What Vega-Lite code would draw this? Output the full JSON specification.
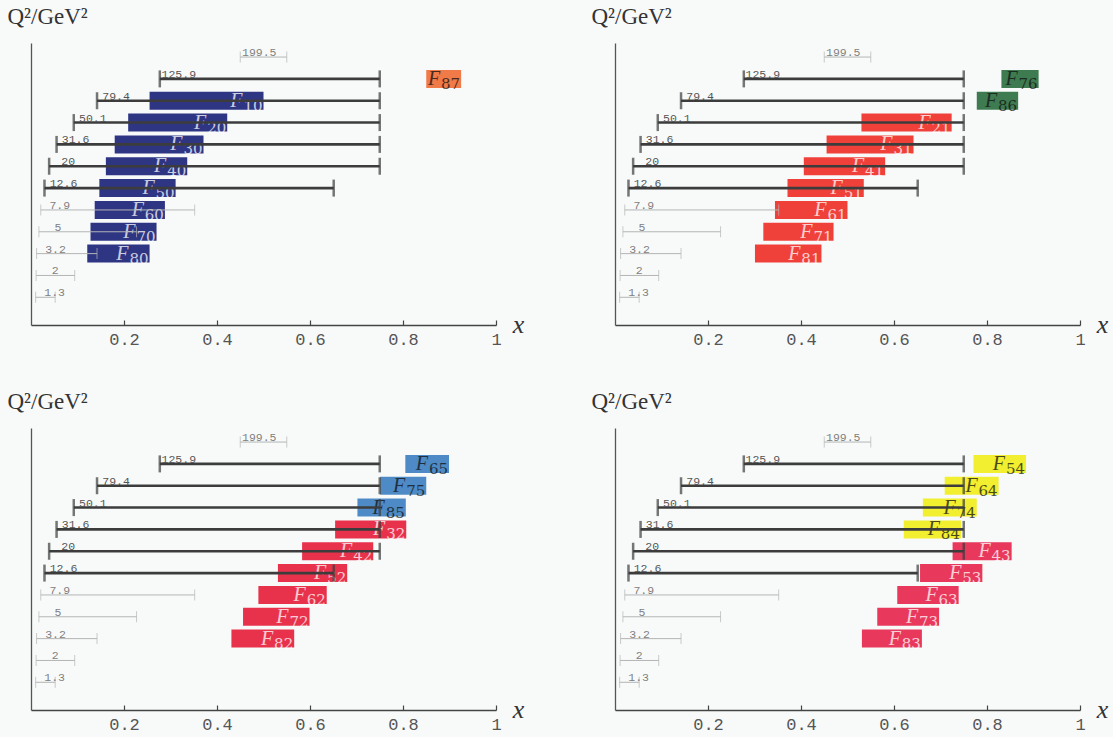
{
  "$schema": "https://vega.github.io/schema/vega-lite/v6.json",
  "background": "#f8fafa",
  "padding": {"left": 7, "top": 5, "right": 5, "bottom": 5},
  "config": {
    "view": {"stroke": null},
    "axisX": {"grid": false, "domainColor": "#444", "domainWidth": 1.5, "tickColor": "#444", "tickSize": -5, "tickWidth": 1.2, "labelPadding": 11, "labelFont": "Liberation Mono", "labelFontSize": 17, "labelColor": "#555", "labelFlush": false},
    "axisY": {"grid": false, "ticks": false, "labels": false, "domainColor": "#555", "domainWidth": 1.3}
  },
  "datasets": {
    "ranges": [
      {"label": "199.5", "q2": 199.526, "xmin": 0.45, "xmax": 0.55, "kind": "thin"},
      {"label": "125.9", "q2": 125.893, "xmin": 0.277, "xmax": 0.75, "kind": "thick"},
      {"label": "79.4", "q2": 79.433, "xmin": 0.142, "xmax": 0.75, "kind": "thick"},
      {"label": "50.1", "q2": 50.119, "xmin": 0.092, "xmax": 0.75, "kind": "thick"},
      {"label": "31.6", "q2": 31.623, "xmin": 0.055, "xmax": 0.75, "kind": "thick"},
      {"label": "20", "q2": 19.953, "xmin": 0.039, "xmax": 0.75, "kind": "thick"},
      {"label": "12.6", "q2": 12.589, "xmin": 0.029, "xmax": 0.651, "kind": "thick"},
      {"label": "7.9", "q2": 7.943, "xmin": 0.021, "xmax": 0.352, "kind": "thin"},
      {"label": "5", "q2": 5.012, "xmin": 0.017, "xmax": 0.227, "kind": "thin"},
      {"label": "3.2", "q2": 3.162, "xmin": 0.012, "xmax": 0.142, "kind": "thin"},
      {"label": "2", "q2": 1.995, "xmin": 0.011, "xmax": 0.094, "kind": "thin"},
      {"label": "1.3", "q2": 1.259, "xmin": 0.01, "xmax": 0.052, "kind": "thin"}
    ],
    "bars": [
      {"panel": 1, "sub": "87", "j": 7, "q2": 125.893, "xlo": 0.85, "xhi": 0.925},
      {"panel": 1, "sub": "10", "j": 0, "q2": 79.433, "xlo": 0.255, "xhi": 0.5},
      {"panel": 1, "sub": "20", "j": 0, "q2": 50.119, "xlo": 0.209, "xhi": 0.422},
      {"panel": 1, "sub": "30", "j": 0, "q2": 31.623, "xlo": 0.18, "xhi": 0.371},
      {"panel": 1, "sub": "40", "j": 0, "q2": 19.953, "xlo": 0.161, "xhi": 0.336},
      {"panel": 1, "sub": "50", "j": 0, "q2": 12.589, "xlo": 0.147, "xhi": 0.311},
      {"panel": 1, "sub": "60", "j": 0, "q2": 7.943, "xlo": 0.137, "xhi": 0.288},
      {"panel": 1, "sub": "70", "j": 0, "q2": 5.012, "xlo": 0.128, "xhi": 0.27},
      {"panel": 1, "sub": "80", "j": 0, "q2": 3.162, "xlo": 0.121, "xhi": 0.255},
      {"panel": 2, "sub": "76", "j": 6, "q2": 125.893, "xlo": 0.831, "xhi": 0.911},
      {"panel": 2, "sub": "86", "j": 6, "q2": 79.433, "xlo": 0.778, "xhi": 0.867},
      {"panel": 2, "sub": "21", "j": 1, "q2": 50.119, "xlo": 0.53, "xhi": 0.724},
      {"panel": 2, "sub": "31", "j": 1, "q2": 31.623, "xlo": 0.455, "xhi": 0.642},
      {"panel": 2, "sub": "41", "j": 1, "q2": 19.953, "xlo": 0.406, "xhi": 0.581},
      {"panel": 2, "sub": "51", "j": 1, "q2": 12.589, "xlo": 0.371, "xhi": 0.535},
      {"panel": 2, "sub": "61", "j": 1, "q2": 7.943, "xlo": 0.344, "xhi": 0.5},
      {"panel": 2, "sub": "71", "j": 1, "q2": 5.012, "xlo": 0.319, "xhi": 0.47},
      {"panel": 2, "sub": "81", "j": 1, "q2": 3.162, "xlo": 0.301, "xhi": 0.444},
      {"panel": 3, "sub": "65", "j": 5, "q2": 125.893, "xlo": 0.805, "xhi": 0.899},
      {"panel": 3, "sub": "75", "j": 5, "q2": 79.433, "xlo": 0.751, "xhi": 0.85},
      {"panel": 3, "sub": "85", "j": 5, "q2": 50.119, "xlo": 0.702, "xhi": 0.806},
      {"panel": 3, "sub": "32", "j": 2, "q2": 31.623, "xlo": 0.654, "xhi": 0.807},
      {"panel": 3, "sub": "42", "j": 2, "q2": 19.953, "xlo": 0.583, "xhi": 0.736},
      {"panel": 3, "sub": "52", "j": 2, "q2": 12.589, "xlo": 0.531, "xhi": 0.68},
      {"panel": 3, "sub": "62", "j": 2, "q2": 7.943, "xlo": 0.489, "xhi": 0.636},
      {"panel": 3, "sub": "72", "j": 2, "q2": 5.012, "xlo": 0.456, "xhi": 0.599},
      {"panel": 3, "sub": "82", "j": 2, "q2": 3.162, "xlo": 0.431, "xhi": 0.566},
      {"panel": 4, "sub": "54", "j": 4, "q2": 125.893, "xlo": 0.771, "xhi": 0.884},
      {"panel": 4, "sub": "64", "j": 4, "q2": 79.433, "xlo": 0.709, "xhi": 0.825},
      {"panel": 4, "sub": "74", "j": 4, "q2": 50.119, "xlo": 0.662, "xhi": 0.778},
      {"panel": 4, "sub": "84", "j": 4, "q2": 31.623, "xlo": 0.621, "xhi": 0.744},
      {"panel": 4, "sub": "43", "j": 3, "q2": 19.953, "xlo": 0.726, "xhi": 0.853},
      {"panel": 4, "sub": "53", "j": 3, "q2": 12.589, "xlo": 0.656, "xhi": 0.79},
      {"panel": 4, "sub": "63", "j": 3, "q2": 7.943, "xlo": 0.607, "xhi": 0.739},
      {"panel": 4, "sub": "73", "j": 3, "q2": 5.012, "xlo": 0.564, "xhi": 0.697},
      {"panel": 4, "sub": "83", "j": 3, "q2": 3.162, "xlo": 0.531, "xhi": 0.66}
    ]
  },
  "columns": 2,
  "spacing": {"column": 119, "row": 103},
  "bounds": "flush",
  "concat": [
    {
      "width": 465, "height": 282,
      "encoding": {"y": {"field": "q2", "type": "quantitative", "scale": {"type": "log", "domain": [0.78, 241.5], "nice": false}, "axis": {"title": "Q²/GeV²", "titleAngle": 0, "titleAlign": "left", "titleBaseline": "alphabetic", "titleX": -24, "titleY": -20, "titleFont": "Liberation Serif", "titleFontSize": 23, "titleFontWeight": "normal", "titleColor": "#333"}}},
      "layer": [
        {"data": {"name": "bars"}, "transform": [{"filter": "datum.panel == 1"}], "mark": {"type": "bar", "orient": "horizontal", "size": 18}, "encoding": {"x": {"field": "xlo", "type": "quantitative", "scale": {"domain": [0, 1], "nice": false, "zero": false}, "axis": {"values": [0.2, 0.4, 0.6, 0.8, 1], "format": ".1~f", "title": "x", "titleFont": "Liberation Serif", "titleFontStyle": "italic", "titleFontSize": 26, "titleFontWeight": "normal", "titleColor": "#333", "titleX": 487, "titleY": 7, "titleAlign": "center", "titleBaseline": "alphabetic"}}, "x2": {"field": "xhi"}, "color": {"field": "j", "type": "nominal", "scale": {"domain": [0, 1, 2, 3, 4, 5, 6, 7], "range": ["#2e3583", "#f0403a", "#e8324c", "#e8385c", "#f2ee30", "#4e8bc6", "#3f7b50", "#f07a48"]}, "legend": null}}},
        {"data": {"name": "bars"}, "transform": [{"filter": "datum.panel == 1"}], "mark": {"type": "text", "text": "F", "align": "right", "baseline": "alphabetic", "dx": -21, "dy": 6, "font": "Liberation Serif", "fontStyle": "italic", "fontSize": 20, "opacity": 0.75}, "encoding": {"x": {"field": "xhi", "type": "quantitative"}, "color": {"condition": {"test": "datum.j >= 4", "value": "#111111"}, "value": "#ffffff"}}},
        {"data": {"name": "bars"}, "transform": [{"filter": "datum.panel == 1"}], "mark": {"type": "text", "align": "right", "baseline": "alphabetic", "dx": -1, "dy": 10, "font": "DejaVu Serif", "fontSize": 15, "opacity": 0.75}, "encoding": {"x": {"field": "xhi", "type": "quantitative"}, "text": {"field": "sub"}, "color": {"condition": {"test": "datum.j >= 4", "value": "#111111"}, "value": "#ffffff"}}},
        {"data": {"name": "ranges"}, "transform": [{"filter": "datum.kind == 'thin'"}], "mark": {"type": "rule", "color": "#b4b4b4", "strokeWidth": 1}, "encoding": {"x": {"field": "xmin", "type": "quantitative"}, "x2": {"field": "xmax"}}},
        {"data": {"name": "ranges"}, "transform": [{"filter": "datum.kind == 'thin'"}, {"fold": ["xmin", "xmax"]}], "mark": {"type": "tick", "orient": "vertical", "size": 11, "thickness": 1, "color": "#b4b4b4"}, "encoding": {"x": {"field": "value", "type": "quantitative"}}},
        {"data": {"name": "ranges"}, "transform": [{"filter": "datum.kind == 'thick'"}], "mark": {"type": "rule", "color": "#3c3c3c", "strokeWidth": 2.6}, "encoding": {"x": {"field": "xmin", "type": "quantitative"}, "x2": {"field": "xmax"}}},
        {"data": {"name": "ranges"}, "transform": [{"filter": "datum.kind == 'thick'"}, {"fold": ["xmin", "xmax"]}], "mark": {"type": "tick", "orient": "vertical", "size": 17, "thickness": 2.5, "color": "#3c3c3c"}, "encoding": {"x": {"field": "value", "type": "quantitative"}}},
        {"data": {"name": "ranges"}, "mark": {"type": "text", "align": "center", "baseline": "alphabetic", "dx": 19, "dy": -1, "font": "Liberation Mono", "fontSize": 11.5}, "encoding": {"x": {"field": "xmin", "type": "quantitative"}, "text": {"field": "label"}, "color": {"condition": {"test": "datum.kind == 'thin'", "value": "#808080"}, "value": "#555555"}}}
      ]
    },
    {
      "width": 465, "height": 282,
      "encoding": {"y": {"field": "q2", "type": "quantitative", "scale": {"type": "log", "domain": [0.78, 241.5], "nice": false}, "axis": {"title": "Q²/GeV²", "titleAngle": 0, "titleAlign": "left", "titleBaseline": "alphabetic", "titleX": -24, "titleY": -20, "titleFont": "Liberation Serif", "titleFontSize": 23, "titleFontWeight": "normal", "titleColor": "#333"}}},
      "layer": [
        {"data": {"name": "bars"}, "transform": [{"filter": "datum.panel == 2"}], "mark": {"type": "bar", "orient": "horizontal", "size": 18}, "encoding": {"x": {"field": "xlo", "type": "quantitative", "scale": {"domain": [0, 1], "nice": false, "zero": false}, "axis": {"values": [0.2, 0.4, 0.6, 0.8, 1], "format": ".1~f", "title": "x", "titleFont": "Liberation Serif", "titleFontStyle": "italic", "titleFontSize": 26, "titleFontWeight": "normal", "titleColor": "#333", "titleX": 487, "titleY": 7, "titleAlign": "center", "titleBaseline": "alphabetic"}}, "x2": {"field": "xhi"}, "color": {"field": "j", "type": "nominal", "scale": {"domain": [0, 1, 2, 3, 4, 5, 6, 7], "range": ["#2e3583", "#f0403a", "#e8324c", "#e8385c", "#f2ee30", "#4e8bc6", "#3f7b50", "#f07a48"]}, "legend": null}}},
        {"data": {"name": "bars"}, "transform": [{"filter": "datum.panel == 2"}], "mark": {"type": "text", "text": "F", "align": "right", "baseline": "alphabetic", "dx": -21, "dy": 6, "font": "Liberation Serif", "fontStyle": "italic", "fontSize": 20, "opacity": 0.75}, "encoding": {"x": {"field": "xhi", "type": "quantitative"}, "color": {"condition": {"test": "datum.j >= 4", "value": "#111111"}, "value": "#ffffff"}}},
        {"data": {"name": "bars"}, "transform": [{"filter": "datum.panel == 2"}], "mark": {"type": "text", "align": "right", "baseline": "alphabetic", "dx": -1, "dy": 10, "font": "DejaVu Serif", "fontSize": 15, "opacity": 0.75}, "encoding": {"x": {"field": "xhi", "type": "quantitative"}, "text": {"field": "sub"}, "color": {"condition": {"test": "datum.j >= 4", "value": "#111111"}, "value": "#ffffff"}}},
        {"data": {"name": "ranges"}, "transform": [{"filter": "datum.kind == 'thin'"}], "mark": {"type": "rule", "color": "#b4b4b4", "strokeWidth": 1}, "encoding": {"x": {"field": "xmin", "type": "quantitative"}, "x2": {"field": "xmax"}}},
        {"data": {"name": "ranges"}, "transform": [{"filter": "datum.kind == 'thin'"}, {"fold": ["xmin", "xmax"]}], "mark": {"type": "tick", "orient": "vertical", "size": 11, "thickness": 1, "color": "#b4b4b4"}, "encoding": {"x": {"field": "value", "type": "quantitative"}}},
        {"data": {"name": "ranges"}, "transform": [{"filter": "datum.kind == 'thick'"}], "mark": {"type": "rule", "color": "#3c3c3c", "strokeWidth": 2.6}, "encoding": {"x": {"field": "xmin", "type": "quantitative"}, "x2": {"field": "xmax"}}},
        {"data": {"name": "ranges"}, "transform": [{"filter": "datum.kind == 'thick'"}, {"fold": ["xmin", "xmax"]}], "mark": {"type": "tick", "orient": "vertical", "size": 17, "thickness": 2.5, "color": "#3c3c3c"}, "encoding": {"x": {"field": "value", "type": "quantitative"}}},
        {"data": {"name": "ranges"}, "mark": {"type": "text", "align": "center", "baseline": "alphabetic", "dx": 19, "dy": -1, "font": "Liberation Mono", "fontSize": 11.5}, "encoding": {"x": {"field": "xmin", "type": "quantitative"}, "text": {"field": "label"}, "color": {"condition": {"test": "datum.kind == 'thin'", "value": "#808080"}, "value": "#555555"}}}
      ]
    },
    {
      "width": 465, "height": 282,
      "encoding": {"y": {"field": "q2", "type": "quantitative", "scale": {"type": "log", "domain": [0.78, 241.5], "nice": false}, "axis": {"title": "Q²/GeV²", "titleAngle": 0, "titleAlign": "left", "titleBaseline": "alphabetic", "titleX": -24, "titleY": -20, "titleFont": "Liberation Serif", "titleFontSize": 23, "titleFontWeight": "normal", "titleColor": "#333"}}},
      "layer": [
        {"data": {"name": "bars"}, "transform": [{"filter": "datum.panel == 3"}], "mark": {"type": "bar", "orient": "horizontal", "size": 18}, "encoding": {"x": {"field": "xlo", "type": "quantitative", "scale": {"domain": [0, 1], "nice": false, "zero": false}, "axis": {"values": [0.2, 0.4, 0.6, 0.8, 1], "format": ".1~f", "title": "x", "titleFont": "Liberation Serif", "titleFontStyle": "italic", "titleFontSize": 26, "titleFontWeight": "normal", "titleColor": "#333", "titleX": 487, "titleY": 7, "titleAlign": "center", "titleBaseline": "alphabetic"}}, "x2": {"field": "xhi"}, "color": {"field": "j", "type": "nominal", "scale": {"domain": [0, 1, 2, 3, 4, 5, 6, 7], "range": ["#2e3583", "#f0403a", "#e8324c", "#e8385c", "#f2ee30", "#4e8bc6", "#3f7b50", "#f07a48"]}, "legend": null}}},
        {"data": {"name": "bars"}, "transform": [{"filter": "datum.panel == 3"}], "mark": {"type": "text", "text": "F", "align": "right", "baseline": "alphabetic", "dx": -21, "dy": 6, "font": "Liberation Serif", "fontStyle": "italic", "fontSize": 20, "opacity": 0.75}, "encoding": {"x": {"field": "xhi", "type": "quantitative"}, "color": {"condition": {"test": "datum.j >= 4", "value": "#111111"}, "value": "#ffffff"}}},
        {"data": {"name": "bars"}, "transform": [{"filter": "datum.panel == 3"}], "mark": {"type": "text", "align": "right", "baseline": "alphabetic", "dx": -1, "dy": 10, "font": "DejaVu Serif", "fontSize": 15, "opacity": 0.75}, "encoding": {"x": {"field": "xhi", "type": "quantitative"}, "text": {"field": "sub"}, "color": {"condition": {"test": "datum.j >= 4", "value": "#111111"}, "value": "#ffffff"}}},
        {"data": {"name": "ranges"}, "transform": [{"filter": "datum.kind == 'thin'"}], "mark": {"type": "rule", "color": "#b4b4b4", "strokeWidth": 1}, "encoding": {"x": {"field": "xmin", "type": "quantitative"}, "x2": {"field": "xmax"}}},
        {"data": {"name": "ranges"}, "transform": [{"filter": "datum.kind == 'thin'"}, {"fold": ["xmin", "xmax"]}], "mark": {"type": "tick", "orient": "vertical", "size": 11, "thickness": 1, "color": "#b4b4b4"}, "encoding": {"x": {"field": "value", "type": "quantitative"}}},
        {"data": {"name": "ranges"}, "transform": [{"filter": "datum.kind == 'thick'"}], "mark": {"type": "rule", "color": "#3c3c3c", "strokeWidth": 2.6}, "encoding": {"x": {"field": "xmin", "type": "quantitative"}, "x2": {"field": "xmax"}}},
        {"data": {"name": "ranges"}, "transform": [{"filter": "datum.kind == 'thick'"}, {"fold": ["xmin", "xmax"]}], "mark": {"type": "tick", "orient": "vertical", "size": 17, "thickness": 2.5, "color": "#3c3c3c"}, "encoding": {"x": {"field": "value", "type": "quantitative"}}},
        {"data": {"name": "ranges"}, "mark": {"type": "text", "align": "center", "baseline": "alphabetic", "dx": 19, "dy": -1, "font": "Liberation Mono", "fontSize": 11.5}, "encoding": {"x": {"field": "xmin", "type": "quantitative"}, "text": {"field": "label"}, "color": {"condition": {"test": "datum.kind == 'thin'", "value": "#808080"}, "value": "#555555"}}}
      ]
    },
    {
      "width": 465, "height": 282,
      "encoding": {"y": {"field": "q2", "type": "quantitative", "scale": {"type": "log", "domain": [0.78, 241.5], "nice": false}, "axis": {"title": "Q²/GeV²", "titleAngle": 0, "titleAlign": "left", "titleBaseline": "alphabetic", "titleX": -24, "titleY": -20, "titleFont": "Liberation Serif", "titleFontSize": 23, "titleFontWeight": "normal", "titleColor": "#333"}}},
      "layer": [
        {"data": {"name": "bars"}, "transform": [{"filter": "datum.panel == 4"}], "mark": {"type": "bar", "orient": "horizontal", "size": 18}, "encoding": {"x": {"field": "xlo", "type": "quantitative", "scale": {"domain": [0, 1], "nice": false, "zero": false}, "axis": {"values": [0.2, 0.4, 0.6, 0.8, 1], "format": ".1~f", "title": "x", "titleFont": "Liberation Serif", "titleFontStyle": "italic", "titleFontSize": 26, "titleFontWeight": "normal", "titleColor": "#333", "titleX": 487, "titleY": 7, "titleAlign": "center", "titleBaseline": "alphabetic"}}, "x2": {"field": "xhi"}, "color": {"field": "j", "type": "nominal", "scale": {"domain": [0, 1, 2, 3, 4, 5, 6, 7], "range": ["#2e3583", "#f0403a", "#e8324c", "#e8385c", "#f2ee30", "#4e8bc6", "#3f7b50", "#f07a48"]}, "legend": null}}},
        {"data": {"name": "bars"}, "transform": [{"filter": "datum.panel == 4"}], "mark": {"type": "text", "text": "F", "align": "right", "baseline": "alphabetic", "dx": -21, "dy": 6, "font": "Liberation Serif", "fontStyle": "italic", "fontSize": 20, "opacity": 0.75}, "encoding": {"x": {"field": "xhi", "type": "quantitative"}, "color": {"condition": {"test": "datum.j >= 4", "value": "#111111"}, "value": "#ffffff"}}},
        {"data": {"name": "bars"}, "transform": [{"filter": "datum.panel == 4"}], "mark": {"type": "text", "align": "right", "baseline": "alphabetic", "dx": -1, "dy": 10, "font": "DejaVu Serif", "fontSize": 15, "opacity": 0.75}, "encoding": {"x": {"field": "xhi", "type": "quantitative"}, "text": {"field": "sub"}, "color": {"condition": {"test": "datum.j >= 4", "value": "#111111"}, "value": "#ffffff"}}},
        {"data": {"name": "ranges"}, "transform": [{"filter": "datum.kind == 'thin'"}], "mark": {"type": "rule", "color": "#b4b4b4", "strokeWidth": 1}, "encoding": {"x": {"field": "xmin", "type": "quantitative"}, "x2": {"field": "xmax"}}},
        {"data": {"name": "ranges"}, "transform": [{"filter": "datum.kind == 'thin'"}, {"fold": ["xmin", "xmax"]}], "mark": {"type": "tick", "orient": "vertical", "size": 11, "thickness": 1, "color": "#b4b4b4"}, "encoding": {"x": {"field": "value", "type": "quantitative"}}},
        {"data": {"name": "ranges"}, "transform": [{"filter": "datum.kind == 'thick'"}], "mark": {"type": "rule", "color": "#3c3c3c", "strokeWidth": 2.6}, "encoding": {"x": {"field": "xmin", "type": "quantitative"}, "x2": {"field": "xmax"}}},
        {"data": {"name": "ranges"}, "transform": [{"filter": "datum.kind == 'thick'"}, {"fold": ["xmin", "xmax"]}], "mark": {"type": "tick", "orient": "vertical", "size": 17, "thickness": 2.5, "color": "#3c3c3c"}, "encoding": {"x": {"field": "value", "type": "quantitative"}}},
        {"data": {"name": "ranges"}, "mark": {"type": "text", "align": "center", "baseline": "alphabetic", "dx": 19, "dy": -1, "font": "Liberation Mono", "fontSize": 11.5}, "encoding": {"x": {"field": "xmin", "type": "quantitative"}, "text": {"field": "label"}, "color": {"condition": {"test": "datum.kind == 'thin'", "value": "#808080"}, "value": "#555555"}}}
      ]
    }
  ]
}
